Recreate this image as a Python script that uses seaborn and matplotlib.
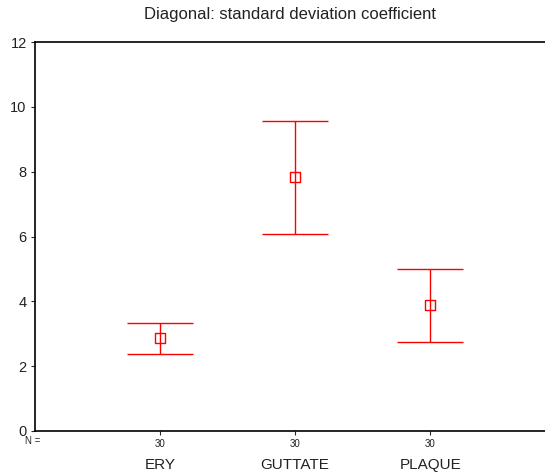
import numpy as np
import pandas as pd
import matplotlib
matplotlib.use("Agg")
import matplotlib.pyplot as plt
import matplotlib.transforms as mtransforms
import seaborn as sns

# --------------------------------------------------
# DATA
# --------------------------------------------------

groups = ["ERY", "GUTTATE", "PLAQUE"]
n_counts = [30, 30, 30]
means = [2.87, 7.84, 3.89]
lower = [2.38, 6.08, 2.75]
upper = [3.33, 9.57, 5.00]

df = pd.DataFrame({
    "group": groups,
    "mean": means,
    "lower": lower,
    "upper": upper
})

# --------------------------------------------------
# STYLE
# --------------------------------------------------

sns.set_style("ticks")
plt.rcParams["font.family"] = ["Liberation Sans", "DejaVu Sans"]

red = "#ff0000"

fig = plt.figure(figsize=(5.45, 4.76), dpi=100)
ax = fig.add_axes([35 / 545, 45 / 476, 1 - 35 / 545, 389 / 476])

# --------------------------------------------------
# ERROR BARS + MEANS
# --------------------------------------------------

sns.scatterplot(
    data=df,
    x="group",
    y="mean",
    marker="s",
    s=55,
    facecolor="none",
    edgecolor=red,
    linewidth=1.0,
    zorder=3,
    ax=ax
)

xs = np.arange(len(groups))
yerr = [
    df["mean"] - df["lower"],
    df["upper"] - df["mean"]
]

ax.errorbar(
    xs,
    df["mean"],
    yerr=yerr,
    fmt="none",
    ecolor=red,
    elinewidth=1.0,
    capsize=23.5,
    capthick=1.0,
    zorder=2
)

# --------------------------------------------------
# AXES
# --------------------------------------------------

ax.set_xlim(-0.926, 2.85)
ax.set_ylim(0, 12)
ax.set_yticks([0, 2, 4, 6, 8, 10, 12])
ax.tick_params(axis="y", labelsize=10.5, length=3, width=0.8, pad=3,
               labelcolor="#222222")
ax.tick_params(axis="x", labelsize=7, length=3, width=0.8, pad=3,
               labelcolor="#222222")
ax.set_xticks(xs)
ax.set_xticklabels([str(n) for n in n_counts])
ax.set_xlabel("")
ax.set_ylabel("")

for side in ["left", "bottom", "top"]:
    ax.spines[side].set_linewidth(1.2)
    ax.spines[side].set_color("black")
ax.spines["right"].set_visible(False)
ax.spines["top"].set_visible(True)

trans = mtransforms.blended_transform_factory(ax.transData, fig.transFigure)
for x, name in zip(xs, groups):
    ax.text(x, 1 - 465 / 476, name, transform=trans,
            ha="center", va="center", fontsize=11, color="#222222")

fig.text(33 / 545, 1 - 441 / 476, "N =", ha="center", va="center",
         fontsize=7, color="#222222")

fig.text(290 / 545, 1 - 15 / 476, "Diagonal: standard deviation coefficient",
         ha="center", va="center", fontsize=12, color="#222222")

fig.savefig("out.png", dpi=100)
